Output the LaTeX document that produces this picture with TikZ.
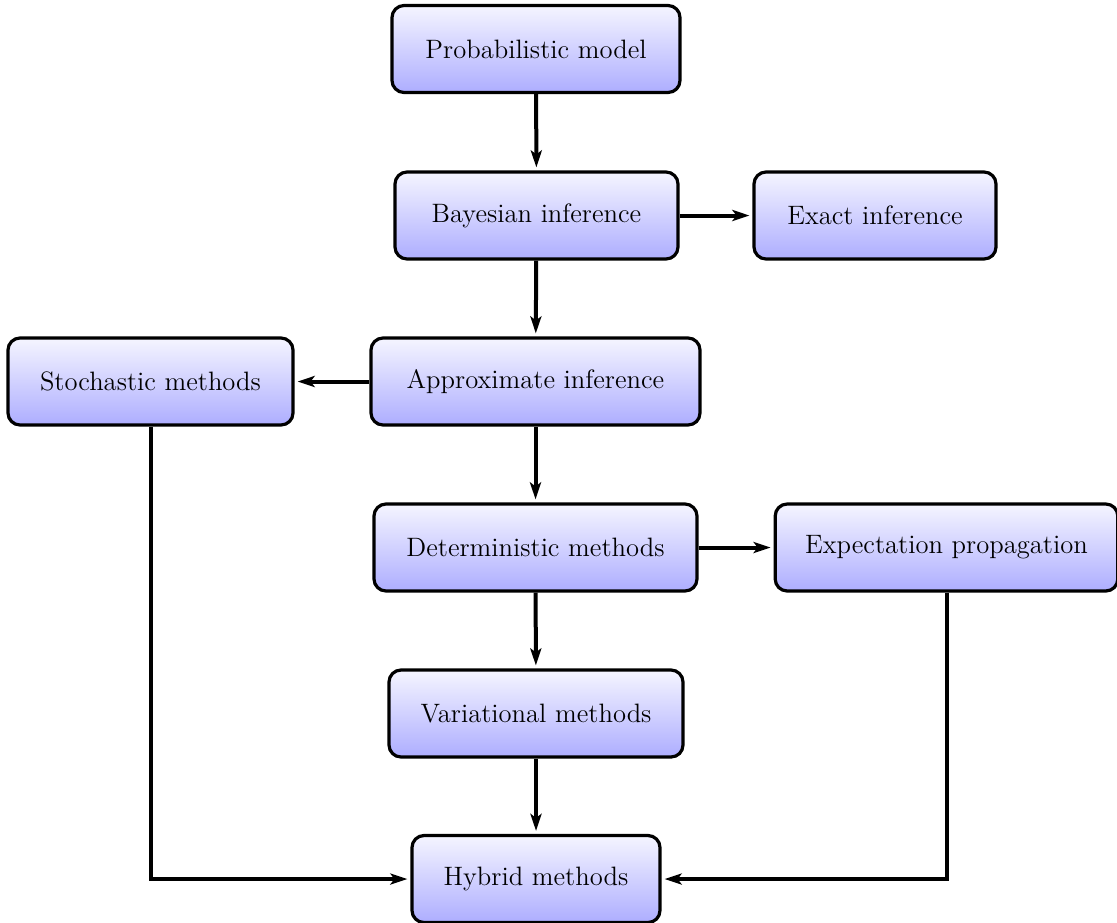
\documentclass[tikz,border=0pt]{standalone}
\usetikzlibrary{arrows.meta,positioning,shadings}
\tikzset{
  box/.style={draw=black, line width=1.6pt, rounded corners=6pt, top color=blue!4, bottom color=blue!32,
    minimum height=43.5pt, inner xsep=15pt, font=\fontsize{13.3}{16}\selectfont},
  conn/.style={line width=2pt, -{Stealth[length=8.5pt,width=5.5pt,inset=2pt]}, shorten >=1.5pt}
}
\begin{document}
\begin{tikzpicture}[x=0.5pt,y=-0.5pt]
\useasboundingbox (0,0) rectangle (1117,922);
\node[box, minimum width=144pt] (pm) at (536,49) {Probabilistic model};
\node[box, minimum width=141.5pt] (bi) at (536.5,215.5) {Bayesian inference};
\node[box, minimum width=121pt] (ei) at (875,215.5) {Exact inference};
\node[box, minimum width=142.5pt] (sm) at (150.5,381.5) {Stochastic methods};
\node[box, minimum width=164.5pt] (ai) at (535.5,381.5) {Approximate inference};
\node[box, minimum width=161.5pt] (dm) at (535.5,547.5) {Deterministic methods};
\node[box, minimum width=170pt] (ep) at (946.5,547.5) {Expectation propagation};
\node[box, minimum width=147pt] (vm) at (536,713.5) {Variational methods};
\node[box, minimum width=124pt] (hm) at (536,879) {Hybrid methods};
\draw[conn] (pm) -- (bi);
\draw[conn] (bi) -- (ei);
\draw[conn] (bi) -- (ai);
\draw[conn] (ai) -- (sm);
\draw[conn] (ai) -- (dm);
\draw[conn] (dm) -- (ep);
\draw[conn] (dm) -- (vm);
\draw[conn] (vm) -- (hm);
\draw[conn] (sm.south) |- (hm.west);
\draw[conn] (ep.south) |- (hm.east);
\end{tikzpicture}
\end{document}
